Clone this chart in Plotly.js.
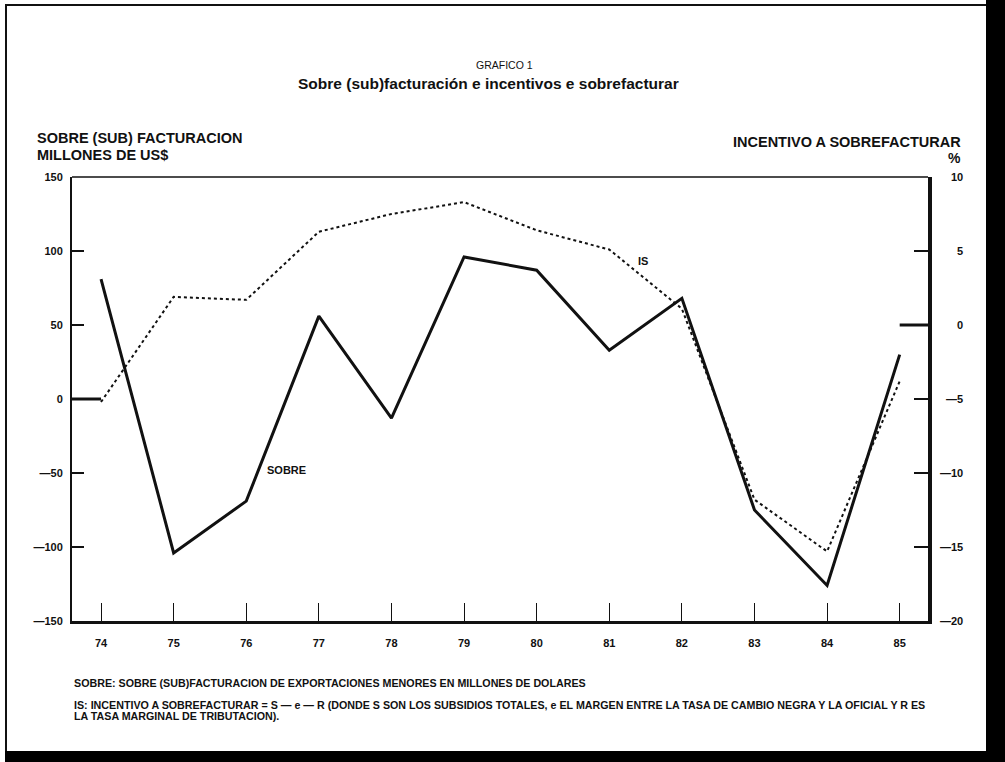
<!DOCTYPE html>
<html>
<head>
<meta charset="utf-8">
<script src="https://cdn.plot.ly/plotly-3.0.1.min.js"></script>
<style>
  html, body { margin: 0; padding: 0; background: #ffffff; }
  #wrap { position: relative; width: 1005px; height: 762px; overflow: hidden; background: #ffffff; }
  #frameTop { position: absolute; left: 5px; top: 4px; width: 981px; height: 2px; background: #111; }
  #frameLeft { position: absolute; left: 5px; top: 4px; width: 2px; height: 748px; background: #111; }
  #shadowRight { position: absolute; left: 986px; top: 0px; width: 19px; height: 762px; background: #000; }
  #shadowBottom { position: absolute; left: 5px; top: 751px; width: 1000px; height: 11px; background: #000; }
  #chart { position: absolute; left: 0; top: 0; width: 1005px; height: 762px; }
</style>
</head>
<body>
<div id="wrap">
  <div id="frameTop"></div>
  <div id="frameLeft"></div>
  <div id="shadowRight"></div>
  <div id="shadowBottom"></div>
  <div id="chart"></div>
</div>
<script>
// ---- data ----
const years = [74, 75, 76, 77, 78, 79, 80, 81, 82, 83, 84, 85];
const yearLabels = ["74", "75", "76", "77", "78", "79", "80", "81", "82", "83", "84", "85"];
// SOBRE (SUB) FACTURACION, millones de US$ (left axis)
const sobre = [81, -104, -69, 56, -13, 96, 87, 33, 68, -75, -126, 30];
// IS: incentivo a sobrefacturar, % (right axis)
const incentivo = [-5.2, 1.9, 1.7, 6.3, 7.5, 8.3, 6.4, 5.1, 1.1, -11.8, -15.3, -3.8];

const leftTickVals = [-150, -100, -50, 0, 50, 100, 150];
const leftTickText = ["—150", "—100", "—50", "0", "50", "100", "150"];
const rightTickVals = [-20, -15, -10, -5, 0, 5, 10];
const rightTickText = ["—20", "—15", "—10", "—5", "0", "5", "10"];

const FONT = "Liberation Sans, Arial, Helvetica, sans-serif";
const NARROW = "Liberation Sans Narrow, Arial Narrow, Liberation Sans, Arial, sans-serif";

const traces = [
  {
    x: years, y: sobre, type: "scatter", mode: "lines", name: "SOBRE",
    line: { color: "#111111", width: 3 }, xaxis: "x", yaxis: "y", showlegend: false
  },
  {
    x: years, y: incentivo, type: "scatter", mode: "lines", name: "IS",
    line: { color: "#111111", width: 2, dash: "dot" }, xaxis: "x", yaxis: "y2", showlegend: false
  }
];

const annotations = [
  { text: "GRAFICO 1", xref: "paper", yref: "paper", x: 0.505, y: 1.2523, showarrow: false,
    font: { family: FONT, size: 10.5, color: "#111" }, xanchor: "center", yanchor: "middle" },
  { text: "<b>Sobre (sub)facturación e incentivos e sobrefacturar</b>", xref: "paper", yref: "paper",
    x: 0.487, y: 1.2095, showarrow: false, font: { family: FONT, size: 15.5, color: "#111" },
    xanchor: "center", yanchor: "middle" },
  { text: "<b>SOBRE (SUB) FACTURACION</b>", xref: "paper", yref: "paper", x: -0.043, y: 1.0878,
    showarrow: false, font: { family: FONT, size: 14.5, color: "#111" }, xanchor: "left", yanchor: "middle" },
  { text: "<b>MILLONES DE US$</b>", xref: "paper", yref: "paper", x: -0.043, y: 1.0495,
    showarrow: false, font: { family: FONT, size: 14.5, color: "#111" }, xanchor: "left", yanchor: "middle" },
  { text: "<b>INCENTIVO A SOBREFACTURAR</b>", xref: "paper", yref: "paper", x: 1.0409, y: 1.0788,
    showarrow: false, font: { family: FONT, size: 14.5, color: "#111" }, xanchor: "right", yanchor: "middle" },
  { text: "<b>%</b>", xref: "paper", yref: "paper", x: 1.0409, y: 1.0428,
    showarrow: false, font: { family: FONT, size: 14, color: "#111" }, xanchor: "right", yanchor: "middle" },
  { text: "<b>SOBRE</b>", xref: "x", yref: "y", x: 76.56, y: -48, showarrow: false,
    font: { family: FONT, size: 11, color: "#111" }, xanchor: "center", yanchor: "middle" },
  { text: "<b>IS</b>", xref: "x", yref: "y", x: 81.47, y: 93, showarrow: false,
    font: { family: FONT, size: 11, color: "#111" }, xanchor: "center", yanchor: "middle" },
  { text: "<b>SOBRE: SOBRE (SUB)FACTURACION DE EXPORTACIONES MENORES EN MILLONES DE DOLARES</b>",
    xref: "paper", yref: "paper", x: 0, y: -0.1396, showarrow: false,
    font: { family: NARROW, size: 10.7, color: "#111" }, xanchor: "left", yanchor: "middle" },
  { text: "<b>IS: INCENTIVO A SOBREFACTURAR = S — e — R (DONDE S SON LOS SUBSIDIOS TOTALES, e EL MARGEN ENTRE LA TASA DE CAMBIO NEGRA Y LA OFICIAL Y R ES</b>",
    xref: "paper", yref: "paper", x: 0, y: -0.189, showarrow: false,
    font: { family: NARROW, size: 10.7, color: "#111" }, xanchor: "left", yanchor: "middle" },
  { text: "<b>LA TASA MARGINAL DE TRIBUTACION).</b>",
    xref: "paper", yref: "paper", x: 0, y: -0.214, showarrow: false,
    font: { family: NARROW, size: 10.7, color: "#111" }, xanchor: "left", yanchor: "middle" }
];

// right-axis tick labels, right-aligned like the original
rightTickVals.forEach(function (v, i) {
  annotations.push({
    text: "<b>" + rightTickText[i] + "</b>", xref: "paper", yref: "y2", x: 1.0432, y: v,
    showarrow: false, xanchor: "right", yanchor: "middle",
    font: { family: FONT, size: 11, color: "#111" }
  });
});

const shapes = [
  // thin top frame line
  { type: "line", xref: "paper", yref: "paper", x0: 0, x1: 1, y0: 1, y1: 1,
    line: { color: "#111", width: 1.5 } },
  // heavy zero marks on both axes
  { type: "line", xref: "x", yref: "y", x0: 73.6, x1: 74, y0: 0, y1: 0,
    line: { color: "#111", width: 3 } },
  { type: "line", xref: "x", yref: "y2", x0: 85, x1: 85.39, y0: 0, y1: 0,
    line: { color: "#111", width: 3 } }
];

const layout = {
  width: 1005, height: 762,
  margin: { l: 72, r: 77, t: 177, b: 141 },
  paper_bgcolor: "rgba(0,0,0,0)", plot_bgcolor: "rgba(0,0,0,0)",
  showlegend: false,
  font: { family: FONT, color: "#111" },
  xaxis: {
    range: [73.6, 85.39], tickmode: "array", tickvals: years, ticktext: yearLabels,
    ticks: "inside", ticklen: 18, tickwidth: 1, tickcolor: "#111",
    showline: true, linewidth: 3, linecolor: "#111", mirror: false,
    showgrid: false, zeroline: false, ticklabelstandoff: 10,
    tickfont: { family: FONT, size: 11, color: "#111", weight: "bold" }
  },
  yaxis: {
    range: [-150, 150], tickmode: "array", tickvals: leftTickVals, ticktext: leftTickText,
    ticks: "inside", ticklen: 12, tickwidth: 1.5, tickcolor: "#111",
    showline: true, linewidth: 2, linecolor: "#111", mirror: false,
    showgrid: false, zeroline: false, ticklabelstandoff: 5,
    tickfont: { family: FONT, size: 11, color: "#111", weight: "bold" }
  },
  yaxis2: {
    range: [-20, 10], overlaying: "y", side: "right", tickmode: "array",
    tickvals: rightTickVals, showticklabels: false,
    ticks: "inside", ticklen: 14, tickwidth: 1.5, tickcolor: "#111",
    showline: true, linewidth: 4, linecolor: "#111", mirror: false,
    showgrid: false, zeroline: false
  },
  annotations: annotations,
  shapes: shapes
};

Plotly.newPlot("chart", traces, layout, { displayModeBar: false, staticPlot: true });
</script>
</body>
</html>
